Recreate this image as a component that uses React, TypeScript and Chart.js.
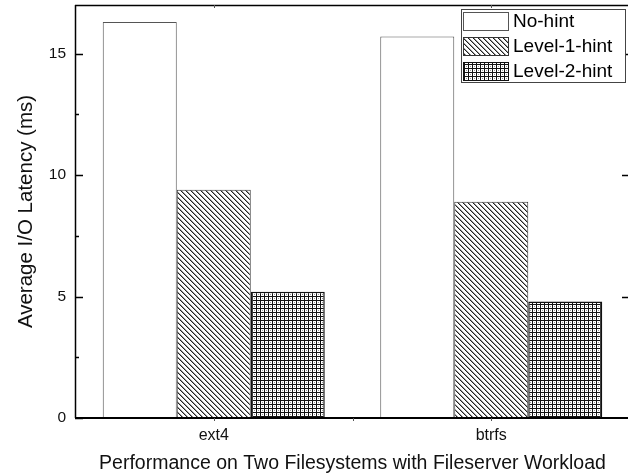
import React, { useEffect, useRef } from "react";
import { Chart, registerables } from "chart.js";

Chart.register(...registerables);

const categories = ["ext4", "btrfs"];
const seriesNames = ["No-hint", "Level-1-hint", "Level-2-hint"];
const noHint = [16.3, 15.7];
const level1 = [9.4, 8.9];
const level2 = [5.2, 4.8];
const yMajorTicks = [0, 5, 10, 15];
const yMinorTicks = [2.5, 7.5, 12.5];
const yMin = 0;
const yMax = 17;
const xTitle = "Performance on Two Filesystems with Fileserver Workload";
const yTitle = "Average I/O Latency (ms)";

const FONT = '"Liberation Sans", Arial, Helvetica, sans-serif';

function makeHatch(ctx: CanvasRenderingContext2D) {
  const c = document.createElement("canvas");
  c.width = 5;
  c.height = 5;
  const g = c.getContext("2d")!;
  g.fillStyle = "#fff";
  g.fillRect(0, 0, 5, 5);
  for (let i = 0; i < 5; i++) {
    g.fillStyle = "#9a9a9a";
    g.fillRect((i + 1) % 5, i, 1, 1);
    g.fillStyle = "#222";
    g.fillRect(i, i, 1, 1);
  }
  return ctx.createPattern(c, "repeat");
}

function makeGrid(ctx: CanvasRenderingContext2D) {
  const c = document.createElement("canvas");
  c.width = 4;
  c.height = 4;
  const g = c.getContext("2d")!;
  g.fillStyle = "#fff";
  g.fillRect(0, 0, 4, 4);
  g.fillStyle = "#111";
  g.fillRect(0, 0, 4, 1);
  g.fillRect(0, 0, 1, 4);
  g.fillStyle = "#9a9a9a";
  g.fillRect(2, 2, 1, 1);
  return ctx.createPattern(c, "repeat");
}

const framePlugin = {
  id: "frame",
  afterDatasetsDraw(chart: any) {
    const { ctx, chartArea, scales } = chart;
    const { left, right, top, bottom } = chartArea;
    const y = scales.y;
    const x = scales.x;
    ctx.save();
    ctx.strokeStyle = "#000";
    ctx.lineWidth = 1.5;
    ctx.beginPath();
    ctx.moveTo(left, top + 0.5);
    ctx.lineTo(right, top + 0.5);
    ctx.moveTo(right, top);
    ctx.lineTo(right, bottom);
    ctx.stroke();
    ctx.beginPath();
    ctx.moveTo(left + 0.5, top);
    ctx.lineTo(left + 0.5, bottom);
    ctx.stroke();
    ctx.lineWidth = 2;
    ctx.beginPath();
    ctx.moveTo(left, bottom);
    ctx.lineTo(right, bottom);
    ctx.stroke();
    ctx.lineWidth = 1.5;
    ctx.beginPath();
    yMajorTicks.forEach((v) => {
      const py = Math.round(y.getPixelForValue(v)) + 0.5;
      ctx.moveTo(left, py);
      ctx.lineTo(left + 8, py);
      if (v !== yMin) {
        ctx.moveTo(right - 8, py);
        ctx.lineTo(right, py);
      }
    });
    yMinorTicks.forEach((v) => {
      const py = Math.round(y.getPixelForValue(v)) + 0.5;
      ctx.moveTo(left, py);
      ctx.lineTo(left + 4, py);
    });
    ctx.stroke();
    ctx.lineWidth = 1;
    ctx.strokeStyle = "#555";
    ctx.beginPath();
    categories.forEach((_, i) => {
      const px = Math.round(x.getPixelForTick(i)) + 0.5;
      ctx.moveTo(px, top);
      ctx.lineTo(px, top + 3);
      ctx.moveTo(px, bottom);
      ctx.lineTo(px, bottom + 3);
    });
    const mid = Math.round((x.getPixelForTick(0) + x.getPixelForTick(1)) / 2) + 0.5;
    ctx.moveTo(mid, bottom);
    ctx.lineTo(mid, bottom + 3);
    ctx.stroke();
    ctx.restore();
  },
};

const legendPlugin = {
  id: "boxLegend",
  afterDraw(chart: any) {
    const { ctx, chartArea } = chart;
    const boxRight = chartArea.right - 5;
    const boxTop = chartArea.top + 4;
    const boxW = 164;
    const boxH = 73;
    const boxLeft = boxRight - boxW;
    ctx.save();
    ctx.fillStyle = "#fff";
    ctx.fillRect(boxLeft, boxTop, boxW, boxH);
    ctx.strokeStyle = "#444";
    ctx.lineWidth = 1;
    ctx.strokeRect(boxLeft + 0.5, boxTop + 0.5, boxW, boxH);
    chart.data.datasets.forEach((ds: any, i: number) => {
      const sx = boxLeft + 2;
      const sy = boxTop + 3 + i * 25;
      const sw = 45;
      const sh = 18;
      ctx.fillStyle = ds.backgroundColor;
      ctx.fillRect(sx, sy, sw, sh);
      ctx.strokeStyle = ds.borderColor;
      ctx.lineWidth = 1;
      ctx.strokeRect(sx + 0.5, sy + 0.5, sw, sh);
      ctx.fillStyle = "#000";
      ctx.font = `19px ${FONT}`;
      ctx.textBaseline = "middle";
      ctx.textAlign = "left";
      ctx.fillText(ds.label, sx + sw + 5, sy + sh / 2 + 1);
    });
    ctx.restore();
  },
};

export default function App() {
  const canvasRef = useRef<HTMLCanvasElement | null>(null);

  useEffect(() => {
    document.body.style.margin = "0";
    document.body.style.overflow = "hidden";
    const canvas = canvasRef.current!;
    const ctx = canvas.getContext("2d")!;
    const hatch = makeHatch(ctx);
    const grid = makeGrid(ctx);

    const chart = new Chart(canvas, {
      type: "bar",
      data: {
        labels: categories,
        datasets: [
          {
            label: seriesNames[0],
            data: noHint,
            backgroundColor: "#ffffff",
            borderColor: "#555",
            borderWidth: 1,
          },
          {
            label: seriesNames[1],
            data: level1,
            backgroundColor: hatch as any,
            borderColor: "#333",
            borderWidth: 1,
          },
          {
            label: seriesNames[2],
            data: level2,
            backgroundColor: grid as any,
            borderColor: "#111",
            borderWidth: 1.5,
          },
        ],
      },
      options: {
        responsive: false,
        animation: false,
        devicePixelRatio: 1,
        datasets: {
          bar: { categoryPercentage: 0.8, barPercentage: 1.0 },
        },
        layout: { padding: { top: 5, right: 6, left: 0, bottom: 0 } },
        plugins: {
          legend: { display: false },
          tooltip: { enabled: false },
        },
        scales: {
          x: {
            type: "category",
            grid: { display: false, drawTicks: false },
            border: { display: false },
            ticks: {
              font: { family: FONT, size: 16 },
              color: "#111",
              padding: 8,
            },
            title: {
              display: true,
              text: xTitle,
              font: { family: FONT, size: 19.5 },
              color: "#111",
              padding: 1,
            },
            afterFit: (s: any) => {
              s.height = 58;
              s.paddingLeft = 0;
              s.paddingRight = 0;
            },
          },
          y: {
            min: yMin,
            max: yMax,
            grid: { display: false, drawTicks: false },
            border: { display: false },
            ticks: {
              stepSize: 5,
              includeBounds: false,
              font: { family: FONT, size: 15.5 },
              color: "#111",
              padding: 9,
              callback: (v: any) => (yMajorTicks.includes(Number(v)) ? String(v) : ""),
            },
            title: {
              display: true,
              text: yTitle,
              font: { family: FONT, size: 20.5 },
              color: "#111",
              padding: 14,
            },
            afterFit: (s: any) => {
              s.width = 75;
              s.paddingTop = 0;
              s.paddingBottom = 0;
            },
          },
        },
      },
      plugins: [framePlugin, legendPlugin],
    });
    return () => chart.destroy();
  }, []);

  return (
    <div style={{ position: "absolute", left: 0, top: 0, width: 636, height: 476, overflow: "hidden" }}>
      <canvas ref={canvasRef} width={636} height={476} style={{ display: "block" }} />
    </div>
  );
}
